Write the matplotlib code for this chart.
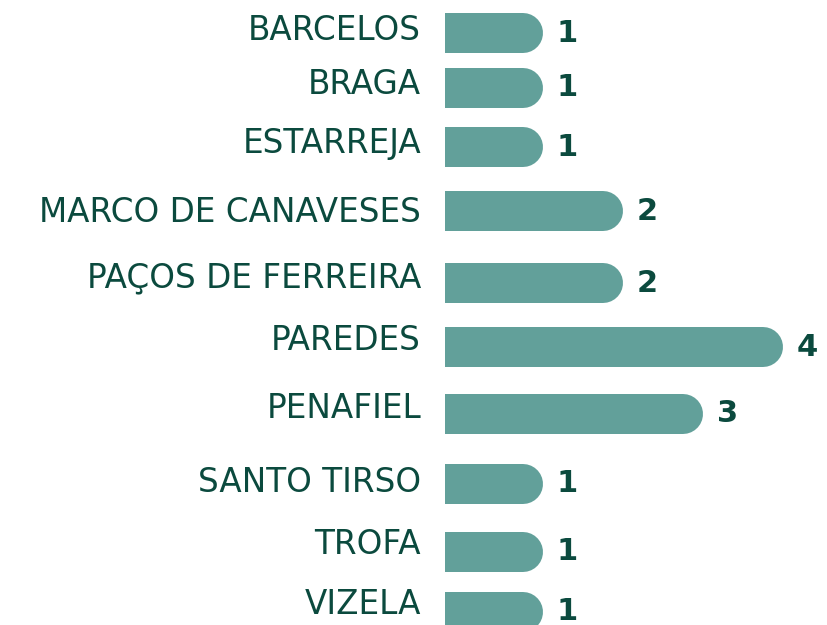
import matplotlib
matplotlib.use("Agg")
import matplotlib.pyplot as plt
import numpy as np

# data
cities = ["BARCELOS", "BRAGA", "ESTARREJA", "MARCO DE CANAVESES", "PAÇOS DE FERREIRA",
          "PAREDES", "PENAFIEL", "SANTO TIRSO", "TROFA", "VIZELA"]
counts = [1, 1, 1, 2, 2, 4, 3, 1, 1, 1]

# layout (pixel rows of the infographic)
row_y = [33, 88, 147, 211, 283, 347, 414, 484, 552, 612]
label_y = [31, 84, 143, 212, 278, 341, 409, 482, 545, 604]

bar_col = "#62a09a"
txt_col = "#0b4a3e"
plt.rcParams['font.family'] = ['DejaVu Sans']

fig = plt.figure(figsize=(8.27, 6.25), dpi=100)
ax = fig.add_axes([0, 0, 1, 1])
# x in value units: pixel = 463 + 80*v
ax.set_xlim((0 - 463) / 80, (827 - 463) / 80)
ax.set_ylim(625, 0)
ax.axis("off")

left = (445 - 463) / 80
r = 0.25  # radius of the rounded tip in value units (20 px)
h = 40
lw = h * 72 / 100

for name, v, y, ly in zip(cities, counts, row_y, label_y):
    ax.barh(y, (v - r) - left, left=left, height=h, color=bar_col, linewidth=0)
    ax.plot([v - r - 0.1, v - r], [y, y], color=bar_col, lw=lw,
            solid_capstyle="round")
    ax.text((421 - 463) / 80, ly, name, ha="right", va="center",
            fontsize=23.5, color=txt_col)
    ax.text(v + 0.17, y, str(v), ha="left", va="center", fontsize=22,
            fontweight="bold", color=txt_col)

fig.savefig("out.png", dpi=100)
